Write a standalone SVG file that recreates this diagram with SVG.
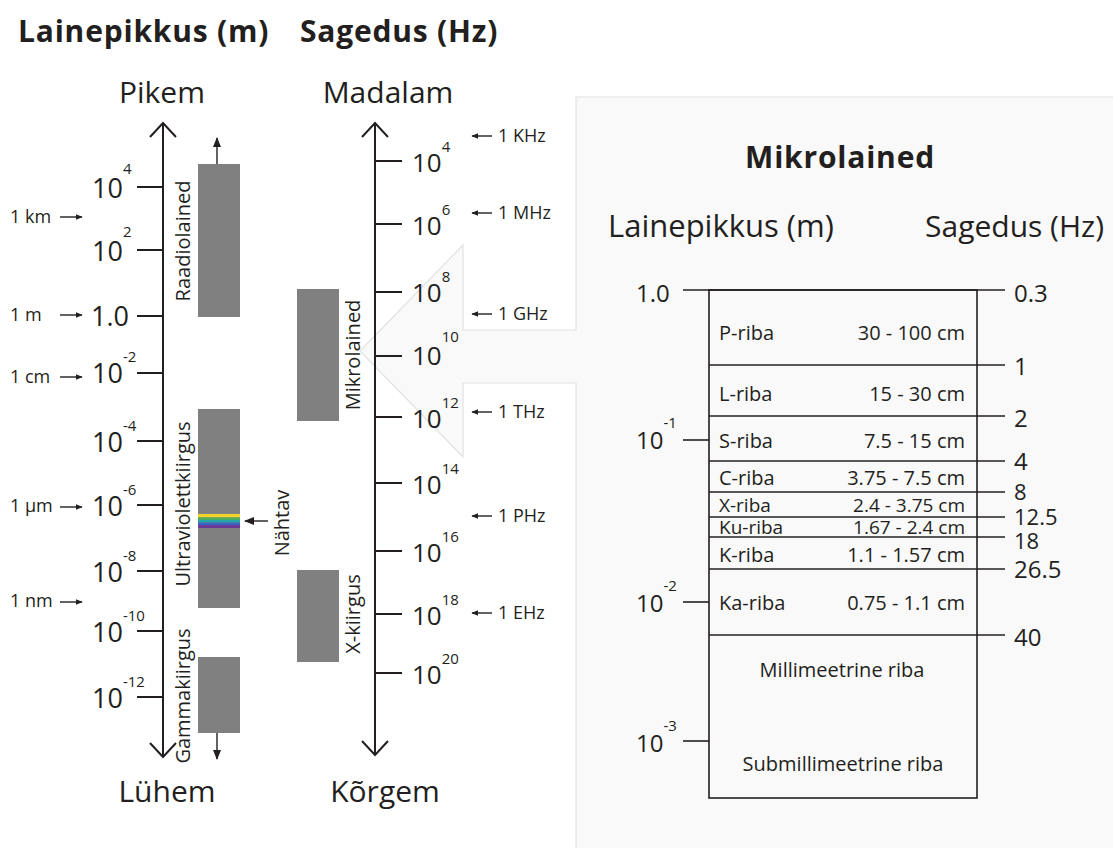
<svg xmlns="http://www.w3.org/2000/svg" width="1113" height="848" viewBox="0 0 1113 848">
<defs>
<style>
text{font-family:"Open Sans","Liberation Sans",sans-serif;fill:#231f20}
.hdr{font-size:30px;font-weight:bold;letter-spacing:0.8px}
.big{font-size:30px}
.pbig{font-size:31px}
.lab{font-size:27px}
.rlab{font-size:26px}
.sup{font-size:15px;letter-spacing:0}
.sm{font-size:18px}
.rot{font-size:20px;text-anchor:middle}
.band{font-size:20px}
.tight{font-size:19px}
.tv{font-size:24px}
.tvs{font-size:22px}
.ax{stroke:#231f20;stroke-width:2;fill:none}
.tk{stroke:#231f20;stroke-width:2}
.tl{stroke:#231f20;stroke-width:1.6;fill:none}
.bar{fill:#808080}
.ar{stroke:#231f20;stroke-width:1.4;fill:none}
</style>
<marker id="ah" viewBox="0 0 10 10" refX="9" refY="5" markerWidth="7" markerHeight="7" markerUnits="userSpaceOnUse" orient="auto">
<path d="M0,1 L10,5 L0,9 Z" fill="#231f20"/>
</marker>
<marker id="ah2" viewBox="0 0 10 10" refX="9" refY="5" markerWidth="10" markerHeight="10" markerUnits="userSpaceOnUse" orient="auto">
<path d="M0,1 L10,5 L0,9 Z" fill="#231f20"/>
</marker>
</defs>
<rect width="1113" height="848" fill="#ffffff"/>

<g id="callout-panel">
<path d="M576,97 L1120,97 L1120,860 L576,860 L576,383 L463,383 L463,457 L360,351 L463,245 L463,330 L576,330 Z" fill="#f9f9f9" stroke="#e2e2e2" stroke-width="1.2"/>
</g>

<g id="headers">
<text class="hdr" x="18" y="42">Lainepikkus (m)</text>
<text class="hdr" x="300" y="42">Sagedus (Hz)</text>
<text class="big" x="162" y="103" text-anchor="middle">Pikem</text>
<text class="big" x="388" y="103" text-anchor="middle">Madalam</text>
<text class="big" x="167" y="802" text-anchor="middle">Lühem</text>
<text class="big" x="385" y="802" text-anchor="middle">Kõrgem</text>
</g>

<g id="wavelength-axis">
<line class="ax" x1="163" y1="123" x2="163" y2="757"/>
<polyline class="ax" points="150,137 163,123 176,137"/>
<polyline class="ax" points="150,743 163,757 176,743"/>
<line class="tk" x1="137" y1="187" x2="163" y2="187"/>
<line class="tk" x1="137" y1="250" x2="163" y2="250"/>
<line class="tk" x1="137" y1="316" x2="163" y2="316"/>
<line class="tk" x1="137" y1="373" x2="163" y2="373"/>
<line class="tk" x1="137" y1="441" x2="163" y2="441"/>
<line class="tk" x1="137" y1="505" x2="163" y2="505"/>
<line class="tk" x1="137" y1="571" x2="163" y2="571"/>
<line class="tk" x1="137" y1="631" x2="163" y2="631"/>
<line class="tk" x1="137" y1="697" x2="163" y2="697"/>
<text class="lab" x="92" y="198">10<tspan class="sup" dy="-24">4</tspan></text>
<text class="lab" x="92" y="261">10<tspan class="sup" dy="-24">2</tspan></text>
<text class="lab" x="91" y="326">1.0</text>
<text class="lab" x="92" y="383">10<tspan class="sup" dy="-21">-2</tspan></text>
<text class="lab" x="92" y="452">10<tspan class="sup" dy="-21">-4</tspan></text>
<text class="lab" x="92" y="516">10<tspan class="sup" dy="-21">-6</tspan></text>
<text class="lab" x="92" y="582">10<tspan class="sup" dy="-21">-8</tspan></text>
<text class="lab" x="92" y="642">10<tspan class="sup" dy="-21">-10</tspan></text>
<text class="lab" x="92" y="708">10<tspan class="sup" dy="-21">-12</tspan></text>
</g>

<g id="wavelength-units">
<text class="sm" x="10" y="223">1 km</text>
<text class="sm" x="10" y="321">1 m</text>
<text class="sm" x="10" y="383">1 cm</text>
<text class="sm" x="10" y="512">1 µm</text>
<text class="sm" x="10" y="607">1 nm</text>
</g>

<g id="radio">
<rect class="bar" x="198" y="164" width="42" height="153"/>
<text class="rot" transform="translate(190,241) rotate(-90)">Raadiolained</text>
</g>

<g id="ultraviolet">
<rect class="bar" x="198" y="409" width="42" height="199"/>
<rect x="198" y="514" width="42" height="3.5" fill="#f4d22c"/>
<rect x="198" y="517.5" width="42" height="2.5" fill="#4aae5c"/>
<rect x="198" y="520" width="42" height="2.5" fill="#26a6a8"/>
<rect x="198" y="522.5" width="42" height="2.5" fill="#3966c2"/>
<rect x="198" y="525" width="42" height="3" fill="#6b3b96"/>
<text class="rot" transform="translate(190,504) rotate(-90)">Ultraviolettkiirgus</text>
</g>

<g id="visible">
<text class="rot" transform="translate(289,523) rotate(-90)">Nähtav</text>
</g>

<g id="gamma">
<rect class="bar" x="198" y="657" width="42" height="76"/>
<text class="rot" transform="translate(190,696) rotate(-90)">Gammakiirgus</text>
</g>

<g id="frequency-axis">
<line class="ax" x1="375" y1="123" x2="375" y2="755"/>
<polyline class="ax" points="362,137 375,123 388,137"/>
<polyline class="ax" points="362,741 375,755 388,741"/>
<line class="tk" x1="375" y1="161" x2="402" y2="161"/>
<line class="tk" x1="375" y1="224" x2="402" y2="224"/>
<line class="tk" x1="375" y1="292" x2="402" y2="292"/>
<line class="tk" x1="375" y1="356" x2="402" y2="356"/>
<line class="tk" x1="375" y1="417" x2="402" y2="417"/>
<line class="tk" x1="375" y1="483" x2="402" y2="483"/>
<line class="tk" x1="375" y1="551" x2="402" y2="551"/>
<line class="tk" x1="375" y1="614" x2="402" y2="614"/>
<line class="tk" x1="375" y1="673" x2="402" y2="673"/>
<text class="rlab" x="412" y="172">10<tspan class="sup" dy="-20">4</tspan></text>
<text class="rlab" x="412" y="235">10<tspan class="sup" dy="-20">6</tspan></text>
<text class="rlab" x="412" y="302">10<tspan class="sup" dy="-20">8</tspan></text>
<text class="rlab" x="412" y="365">10<tspan class="sup" dy="-23">10</tspan></text>
<text class="rlab" x="412" y="428">10<tspan class="sup" dy="-20">12</tspan></text>
<text class="rlab" x="412" y="494">10<tspan class="sup" dy="-20">14</tspan></text>
<text class="rlab" x="412" y="562">10<tspan class="sup" dy="-20">16</tspan></text>
<text class="rlab" x="412" y="625">10<tspan class="sup" dy="-20">18</tspan></text>
<text class="rlab" x="412" y="684">10<tspan class="sup" dy="-20">20</tspan></text>
</g>

<g id="frequency-units">
<text class="sm" x="498" y="142">1 KHz</text>
<text class="sm" x="498" y="219">1 MHz</text>
<text class="sm" x="498" y="320">1 GHz</text>
<text class="sm" x="498" y="418">1 THz</text>
<text class="sm" x="498" y="522">1 PHz</text>
<text class="sm" x="498" y="619">1 EHz</text>
</g>

<g id="microwave">
<rect class="bar" x="297" y="289" width="42" height="132"/>
<text class="rot" transform="translate(360,355) rotate(-90)">Mikrolained</text>
</g>

<g id="xray">
<rect class="bar" x="297" y="570" width="42" height="92"/>
<text class="rot" transform="translate(360,614) rotate(-90)">X-kiirgus</text>
</g>

<g id="connectors">
<line class="ar" x1="60" y1="217" x2="82" y2="217" marker-end="url(#ah)"/>
<line class="ar" x1="60" y1="315" x2="82" y2="315" marker-end="url(#ah)"/>
<line class="ar" x1="60" y1="377" x2="82" y2="377" marker-end="url(#ah)"/>
<line class="ar" x1="60" y1="507" x2="82" y2="507" marker-end="url(#ah)"/>
<line class="ar" x1="60" y1="602" x2="82" y2="602" marker-end="url(#ah)"/>
<line class="ar" x1="492" y1="136" x2="472" y2="136" marker-end="url(#ah)"/>
<line class="ar" x1="492" y1="213" x2="472" y2="213" marker-end="url(#ah)"/>
<line class="ar" x1="492" y1="314" x2="472" y2="314" marker-end="url(#ah)"/>
<line class="ar" x1="492" y1="412" x2="472" y2="412" marker-end="url(#ah)"/>
<line class="ar" x1="492" y1="516" x2="472" y2="516" marker-end="url(#ah)"/>
<line class="ar" x1="492" y1="613" x2="472" y2="613" marker-end="url(#ah)"/>
<line class="ar" x1="268" y1="521" x2="245" y2="521" stroke-width="1.8" marker-end="url(#ah2)"/>
<line class="ar" x1="217" y1="164" x2="217" y2="138" stroke-width="1.8" marker-end="url(#ah2)"/>
<line class="ar" x1="217" y1="733" x2="217" y2="759" stroke-width="1.8" marker-end="url(#ah2)"/>
</g>

<g id="microwave-table">
<text class="hdr" x="840" y="168" text-anchor="middle">Mikrolained</text>
<text class="pbig" x="608" y="237">Lainepikkus (m)</text>
<text class="big" x="1104" y="237" text-anchor="end">Sagedus (Hz)</text>
<rect class="tl" x="709" y="290" width="268" height="508"/>
<line class="tl" x1="683" y1="290" x2="1005" y2="290"/>
<line class="tl" x1="709" y1="365" x2="1005" y2="365"/>
<line class="tl" x1="709" y1="416" x2="1005" y2="416"/>
<line class="tl" x1="709" y1="461" x2="1005" y2="461"/>
<line class="tl" x1="709" y1="492" x2="1005" y2="492"/>
<line class="tl" x1="709" y1="517" x2="1005" y2="517"/>
<line class="tl" x1="709" y1="537" x2="1005" y2="537"/>
<line class="tl" x1="709" y1="569" x2="1005" y2="569"/>
<line class="tl" x1="709" y1="635" x2="1005" y2="635"/>
<line class="tl" x1="683" y1="440" x2="709" y2="440"/>
<line class="tl" x1="683" y1="602" x2="709" y2="602"/>
<line class="tl" x1="683" y1="741" x2="709" y2="741"/>
<text class="tv" x="636" y="302">1.0</text>
<text class="tv" x="636" y="449">10<tspan class="sup" dy="-21">-1</tspan></text>
<text class="tv" x="636" y="612">10<tspan class="sup" dy="-21">-2</tspan></text>
<text class="tv" x="636" y="752">10<tspan class="sup" dy="-21">-3</tspan></text>
<text class="tv" x="1014" y="302">0.3</text>
<text class="tv" x="1014" y="375">1</text>
<text class="tv" x="1014" y="427">2</text>
<text class="tv" x="1014" y="470">4</text>
<text class="tvs" x="1014" y="500">8</text>
<text class="tvs" x="1014" y="525">12.5</text>
<text class="tvs" x="1014" y="549">18</text>
<text class="tv" x="1014" y="578">26.5</text>
<text class="tv" x="1014" y="646">40</text>
<text class="band" x="719" y="340">P-riba</text>
<text class="band" x="965" y="340" text-anchor="end">30 - 100 cm</text>
<text class="band" x="719" y="401">L-riba</text>
<text class="band" x="965" y="401" text-anchor="end">15 - 30 cm</text>
<text class="band" x="719" y="448">S-riba</text>
<text class="band" x="965" y="448" text-anchor="end">7.5 - 15 cm</text>
<text class="band" x="719" y="485">C-riba</text>
<text class="band" x="965" y="485" text-anchor="end">3.75 - 7.5 cm</text>
<text class="tight" x="719" y="512">X-riba</text>
<text class="tight" x="965" y="512" text-anchor="end">2.4 - 3.75 cm</text>
<text class="tight" x="719" y="534">Ku-riba</text>
<text class="tight" x="965" y="534" text-anchor="end">1.67 - 2.4 cm</text>
<text class="band" x="719" y="562">K-riba</text>
<text class="band" x="965" y="562" text-anchor="end">1.1 - 1.57 cm</text>
<text class="band" x="719" y="610">Ka-riba</text>
<text class="band" x="965" y="610" text-anchor="end">0.75 - 1.1 cm</text>
<text class="band" x="842" y="677" text-anchor="middle">Millimeetrine riba</text>
<text class="band" x="843" y="771" text-anchor="middle">Submillimeetrine riba</text>
</g>
</svg>
